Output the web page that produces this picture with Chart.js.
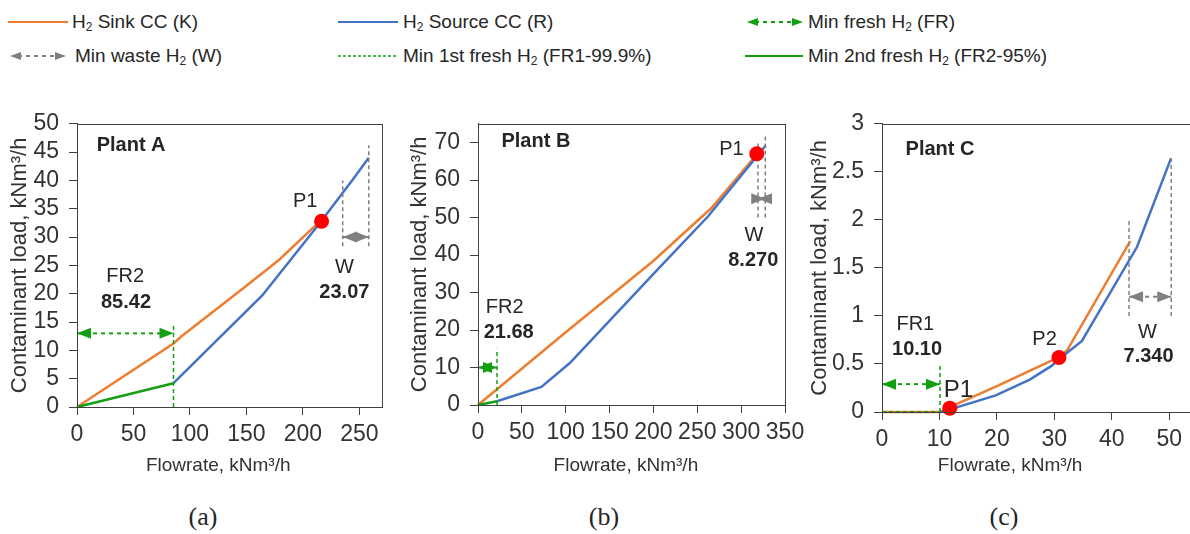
<!DOCTYPE html>
<html>
<head>
<meta charset="utf-8">
<script src="https://cdn.jsdelivr.net/npm/chart.js@4.4.1/dist/chart.umd.min.js"></script>
<style>
body { margin: 0; width: 1190px; height: 534px; overflow: hidden; background: #fff; position: relative;
       font-family: 'Liberation Sans', Arial, sans-serif; color: #262626; }
canvas { position: absolute; }
.lg { position: absolute; height: 22px; font-size: 19px; line-height: 22px; white-space: nowrap; }
.lg svg { position: absolute; left: 0; top: 0; }
.lg span { position: absolute; top: 0; }
sub { font-size: 12px; vertical-align: -3px; line-height: 0; }
.cap { position: absolute; top: 502px; font-family: 'Liberation Serif', 'Times New Roman', serif; font-size: 26px; width: 60px; text-align: center; }
</style>
</head>
<body>

<div class="lg" style="left:8px; top:11px;">
  <svg width="62" height="22"><line x1="0" y1="11" x2="60" y2="11" stroke="#ED7D31" stroke-width="2"/></svg>
  <span style="left:64px;">H<sub>2</sub> Sink CC (K)</span>
</div>
<div class="lg" style="left:338px; top:11px;">
  <svg width="62" height="22"><line x1="0" y1="11" x2="60" y2="11" stroke="#4472C4" stroke-width="2"/></svg>
  <span style="left:65px;">H<sub>2</sub> Source CC (R)</span>
</div>
<div class="lg" style="left:745px; top:11px;">
  <svg width="62" height="22"><line x1="10" y1="11" x2="50" y2="11" stroke="#12A012" stroke-width="2" stroke-dasharray="4,4"/>
    <polygon points="2,11 13,7 13,15" fill="#12A012"/><polygon points="58,11 47,7 47,15" fill="#12A012"/></svg>
  <span style="left:63px;">Min fresh H<sub>2</sub> (FR)</span>
</div>
<div class="lg" style="left:8px; top:45px;">
  <svg width="62" height="22"><line x1="10" y1="11" x2="50" y2="11" stroke="#808080" stroke-width="2" stroke-dasharray="4,4"/>
    <polygon points="2,11 13,7 13,15" fill="#808080"/><polygon points="58,11 47,7 47,15" fill="#808080"/></svg>
  <span style="left:67px;">Min waste H<sub>2</sub> (W)</span>
</div>
<div class="lg" style="left:338px; top:45px;">
  <svg width="62" height="22"><line x1="0" y1="11" x2="60" y2="11" stroke="#12A012" stroke-width="1.5" stroke-dasharray="3,2"/></svg>
  <span style="left:65px;">Min 1st fresh H<sub>2</sub> (FR1-99.9%)</span>
</div>
<div class="lg" style="left:745px; top:45px;">
  <svg width="62" height="22"><line x1="0" y1="11" x2="58" y2="11" stroke="#12A012" stroke-width="2"/></svg>
  <span style="left:63px;">Min 2nd fresh H<sub>2</sub> (FR2-95%)</span>
</div>

<canvas id="chartA" width="395" height="380" style="left:0px; top:100px;"></canvas>
<canvas id="chartB" width="420" height="380" style="left:400px; top:100px;"></canvas>
<canvas id="chartC" width="410" height="380" style="left:800px; top:100px;"></canvas>

<div class="cap" style="left:173px;">(a)</div>
<div class="cap" style="left:574px;">(b)</div>
<div class="cap" style="left:974px;">(c)</div>

<script>
// Plant A
const sinkAX = [0, 85.42, 92, 150, 179, 214];
const sinkAY = [0, 11.2, 12.4, 21.4, 26.0, 32.6];
const sourceAX = [85.42, 164, 215, 245, 258.3];
const sourceAY = [4.2, 19.7, 32.5, 40.4, 44.0];
const fr2AX = [0, 85.42];
const fr2AY = [0, 4.2];
const pinchAX = [216.5];
const pinchAY = [32.8];
const frLineAX = [85.42, 85.42];
const frLineAY = [0, 14.6];
const frArrowAX = [0, 85.42];
const frArrowAY = [13, 13];
const wArrowAX = [235.2, 258.3];
const wArrowAY = [30, 30];
const wLeftAX = [235.2, 235.2];
const wLeftAY = [28.4, 40];
const wRightAX = [258.3, 258.3];
const wRightAY = [28.4, 46.2];
const xTicksA = [0, 50, 100, 150, 200, 250];
const yTicksA = [0, 5, 10, 15, 20, 25, 30, 35, 40, 45, 50];

// Plant B
const sinkBX = [0, 100, 199.8, 266.4, 318.5];
const sinkBY = [0, 19.4, 38.4, 52.6, 67.0];
const sourceBX = [21.68, 72.3, 104.7, 199.8, 262.6, 318.5, 328];
const sourceBY = [1.0, 4.8, 11.2, 34.9, 50.4, 66.5, 69.2];
const fr2BX = [0, 21.68];
const fr2BY = [0, 1.0];
const pinchBX = [317.8];
const pinchBY = [67.0];
const frLineBX = [21.68, 21.68];
const frLineBY = [0, 15];
const frArrowBX = [0, 21.68];
const frArrowBY = [10, 10];
const wArrowBX = [319.2, 327.5];
const wArrowBY = [55, 55];
const wLeftBX = [319.2, 319.2];
const wLeftBY = [50, 69.8];
const wRightBX = [327.5, 327.5];
const wRightBY = [50, 72];
const xTicksB = [0, 50, 100, 150, 200, 250, 300, 350];
const yTicksB = [0, 10, 20, 30, 40, 50, 60, 70];

// Plant C
const sinkCX = [0, 10.1, 11.8, 20, 30.8, 32.2, 43.2];
const sinkCY = [0, 0, 0.05, 0.27, 0.57, 0.64, 1.78];
const sourceCX = [10.1, 12, 19.8, 25.8, 29.5, 30.8, 34.8, 44.4, 50.3];
const sourceCY = [0, 0.03, 0.173, 0.34, 0.48, 0.55, 0.74, 1.72, 2.64];
const fr1CX = [0, 10.1];
const fr1CY = [0, 0];
const pinchCX = [11.8, 30.8];
const pinchCY = [0.04, 0.567];
const frLineCX = [10.1, 10.1];
const frLineCY = [0, 0.5];
const frArrowCX = [0, 10.1];
const frArrowCY = [0.29, 0.29];
const wArrowCX = [43.0, 50.34];
const wArrowCY = [1.2, 1.2];
const wLeftCX = [43.0, 43.0];
const wLeftCY = [1.0, 2.0];
const wRightCX = [50.34, 50.34];
const wRightCY = [1.0, 2.66];
const xTicksC = [0, 10, 20, 30, 40, 50];
const yTicksC = [0, 0.5, 1, 1.5, 2, 2.5, 3];

const ORANGE = '#ED7D31';
const BLUE = '#4472C4';
const GREEN = '#12A012';
const GRAY = '#808080';
const FONT = "'Liberation Sans', Arial, sans-serif";

function pts(xs, ys) {
    return xs.map((x, i) => ({ x: x, y: ys[i] }));
}

function line(xs, ys, color, width, dash) {
    return { data: pts(xs, ys), showLine: true, borderColor: color, borderWidth: width,
             borderDash: dash || [], pointRadius: 0, clip: false };
}

function arrow(xs, ys, color) {
    const ds = line(xs, ys, color, 2, [4, 4]);
    ds.arrows = true;
    return ds;
}

function dots(xs, ys) {
    return { data: pts(xs, ys), pointRadius: 7.5, pointBackgroundColor: '#FF0000',
             pointBorderWidth: 0, clip: false };
}

// arrow heads with their tips on the end points
const arrowHeads = {
    id: 'arrowHeads',
    afterDatasetsDraw(chart) {
        const ctx = chart.ctx;
        chart.data.datasets.forEach((ds, i) => {
            if (!ds.arrows) return;
            const p = chart.getDatasetMeta(i).data;
            const a = p[0], b = p[p.length - 1];
            const ang = Math.atan2(b.y - a.y, b.x - a.x);
            ctx.save();
            ctx.fillStyle = ds.borderColor;
            [[b, ang], [a, ang + Math.PI]].forEach(([q, t]) => {
                const c = Math.cos(t), s = Math.sin(t);
                ctx.beginPath();
                ctx.moveTo(q.x, q.y);
                ctx.lineTo(q.x - 14 * c + 5.5 * s, q.y - 14 * s - 5.5 * c);
                ctx.lineTo(q.x - 14 * c - 5.5 * s, q.y - 14 * s + 5.5 * c);
                ctx.closePath();
                ctx.fill();
            });
            ctx.restore();
        });
    }
};

const frame = {
    id: 'frame',
    afterDraw(chart) {
        const { ctx, chartArea: a } = chart;
        ctx.save();
        ctx.strokeStyle = '#404040';
        ctx.lineWidth = 1;
        ctx.strokeRect(Math.round(a.left) + 0.5, Math.round(a.top) + 0.5,
                       Math.round(a.right - a.left), Math.round(a.bottom - a.top));
        ctx.restore();
    }
};

function makeChart(id, s) {
    // text inside the plots, plus the x title (placed like Excel, centred on the chart object)
    const notes = {
        id: 'notes',
        afterDraw(chart) {
            const ctx = chart.ctx;
            const xs = chart.scales.x, ys = chart.scales.y;
            ctx.save();
            ctx.fillStyle = '#262626';
            ctx.textAlign = 'center';
            ctx.textBaseline = 'middle';
            s.notes.forEach(n => {
                ctx.font = (n.bold ? 'bold ' : '') + (n.size || 20) + 'px ' + FONT;
                ctx.fillText(n.text, xs.getPixelForValue(n.x), ys.getPixelForValue(n.y));
            });
            ctx.fillStyle = '#333';
            ctx.font = '19px ' + FONT;
            ctx.fillText('Flowrate, kNm³/h', xs.getPixelForValue(s.xTitleAt), 366);
            ctx.restore();
        }
    };

    return new Chart(document.getElementById(id), {
        type: 'scatter',
        data: { datasets: s.datasets },
        options: {
            responsive: false,
            animation: false,
            devicePixelRatio: 1,
            layout: { padding: s.padding },
            plugins: { legend: { display: false }, tooltip: { enabled: false } },
            scales: {
                x: {
                    type: 'linear', min: 0, max: s.xMax,
                    afterBuildTicks: sc => { sc.ticks = s.xTicks.map(v => ({ value: v })); },
                    afterFit: sc => { sc.height = s.xAxisHeight; },
                    grid: { drawOnChartArea: false, drawTicks: true, tickLength: 8, color: '#404040' },
                    border: { color: '#404040' },
                    ticks: { color: '#333', padding: 6, maxRotation: 0, autoSkip: false,
                             callback: v => String(v), font: { family: FONT, size: 23 } },
                    title: { display: false }
                },
                y: {
                    type: 'linear', min: 0, max: s.yMax,
                    afterBuildTicks: sc => { sc.ticks = s.yTicks.map(v => ({ value: v })); },
                    afterFit: sc => { sc.width = s.yAxisWidth; },
                    grid: { drawOnChartArea: false, drawTicks: true, tickLength: 8, color: '#404040' },
                    border: { color: '#404040' },
                    ticks: { color: '#333', padding: 10, autoSkip: false,
                             callback: v => String(v), font: { family: FONT, size: 23 } },
                    title: { display: true, text: 'Contaminant load, kNm³/h', color: '#333',
                             padding: { top: 7, bottom: 0 }, font: { family: FONT, size: 22 } }
                }
            }
        },
        plugins: [frame, arrowHeads, notes]
    });
}

makeChart('chartA', {
    xMax: 270, yMax: 50, xTicks: xTicksA, yTicks: yTicksA, xTitleAt: 125,
    yAxisWidth: 77, xAxisHeight: 73, padding: { top: 16, right: 13, left: 0, bottom: 0 },
    datasets: [
        dots(pinchAX, pinchAY),
        arrow(frArrowAX, frArrowAY, GREEN),
        arrow(wArrowAX, wArrowAY, GRAY),
        line(frLineAX, frLineAY, GREEN, 1.5, [4, 3]),
        line(wLeftAX, wLeftAY, GRAY, 1.5, [4, 3]),
        line(wRightAX, wRightAY, GRAY, 1.5, [4, 3]),
        line(fr2AX, fr2AY, GREEN, 2.5),
        line(sourceAX, sourceAY, BLUE, 2.5),
        line(sinkAX, sinkAY, ORANGE, 2.5)
    ],
    notes: [
        { text: 'Plant A', x: 47.9, y: 46.1, bold: true },
        { text: 'P1', x: 202, y: 36.2 },
        { text: 'FR2', x: 42.6, y: 23 },
        { text: '85.42', x: 43.4, y: 18.4, bold: true },
        { text: 'W', x: 236.7, y: 24.7 },
        { text: '23.07', x: 236.7, y: 20.2, bold: true }
    ]
});

makeChart('chartB', {
    xMax: 350, yMax: 75, xTicks: xTicksB, yTicks: yTicksB, xTitleAt: 168.6,
    yAxisWidth: 78, xAxisHeight: 75, padding: { top: 15, right: 35, left: 0, bottom: 0 },
    datasets: [
        dots(pinchBX, pinchBY),
        arrow(frArrowBX, frArrowBY, GREEN),
        arrow(wArrowBX, wArrowBY, GRAY),
        line(frLineBX, frLineBY, GREEN, 1.5, [4, 3]),
        line(wLeftBX, wLeftBY, GRAY, 1.5, [4, 3]),
        line(wRightBX, wRightBY, GRAY, 1.5, [4, 3]),
        line(fr2BX, fr2BY, GREEN, 2.5),
        line(sourceBX, sourceBY, BLUE, 2.5),
        line(sinkBX, sinkBY, ORANGE, 2.5)
    ],
    notes: [
        { text: 'Plant B', x: 66, y: 70.2, bold: true },
        { text: 'P1', x: 289, y: 68.1 },
        { text: 'W', x: 314.7, y: 45.3 },
        { text: '8.270', x: 313.8, y: 38.5, bold: true },
        { text: 'FR2', x: 30.5, y: 25.9 },
        { text: '21.68', x: 35, y: 19.4, bold: true }
    ]
});

makeChart('chartC', {
    xMax: 55, yMax: 3, xTicks: xTicksC, yTicks: yTicksC, xTitleAt: 22.3,
    yAxisWidth: 82, xAxisHeight: 68, padding: { top: 13, right: 12, left: 0, bottom: 0 },
    datasets: [
        dots(pinchCX, pinchCY),
        arrow(frArrowCX, frArrowCY, GREEN),
        arrow(wArrowCX, wArrowCY, GRAY),
        line(frLineCX, frLineCY, GREEN, 1.5, [4, 3]),
        line(fr1CX, fr1CY, GREEN, 2, [4, 3]),
        line(wLeftCX, wLeftCY, GRAY, 1.5, [4, 3]),
        line(wRightCX, wRightCY, GRAY, 1.5, [4, 3]),
        line(sourceCX, sourceCY, BLUE, 2.5),
        line(sinkCX, sinkCY, ORANGE, 2.5)
    ],
    notes: [
        { text: 'Plant C', x: 10.1, y: 2.73, bold: true },
        { text: 'FR1', x: 5.8, y: 0.91 },
        { text: '10.10', x: 6.1, y: 0.65, bold: true },
        { text: 'P1', x: 13.3, y: 0.22, size: 24 },
        { text: 'P2', x: 28.3, y: 0.76 },
        { text: 'W', x: 46.2, y: 0.83 },
        { text: '7.340', x: 46.4, y: 0.58, bold: true }
    ]
});
</script>
</body>
</html>
